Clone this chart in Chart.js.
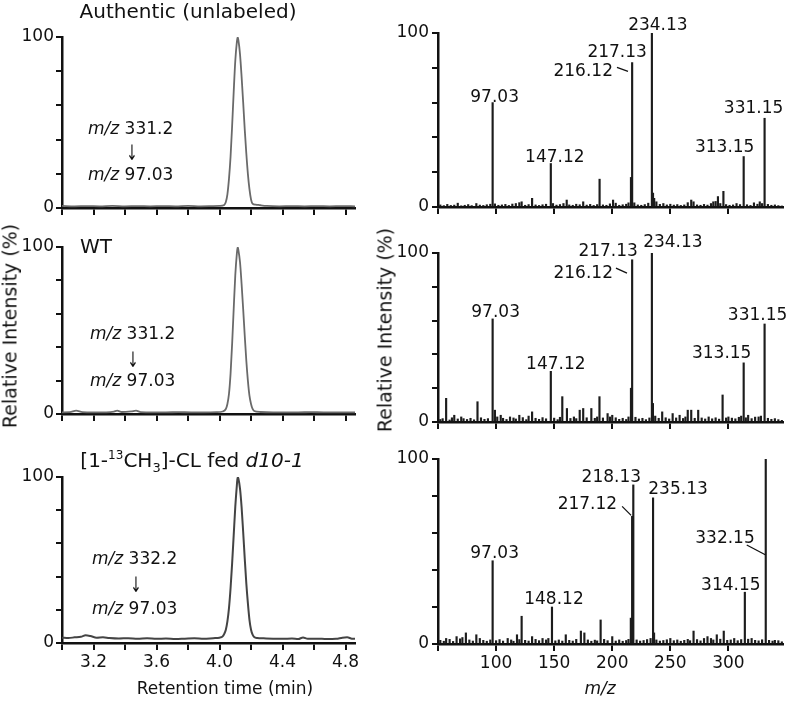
<!DOCTYPE html>
<html>
<head>
<meta charset="utf-8">
<title>Chromatograms and MS/MS spectra</title>
<script src="https://cdn.jsdelivr.net/npm/chart.js@4.4.1/dist/chart.umd.min.js"></script>
<style>
  body { margin: 0; background: #fff; }
  #page { position: relative; width: 796px; height: 705px; overflow: hidden; font-family: "DejaVu Sans", sans-serif; color: #111; }
  #page canvas { position: absolute; }
  .txt { position: absolute; white-space: nowrap; line-height: 1; }
  .ctr { transform: translateX(-50%); }
  .arrow { position: absolute; line-height: 1; font-size: 17px; transform: translateX(-50%) scaleX(0.8) scaleY(1.25); }
  .ytitle { position: absolute; white-space: nowrap; line-height: 1; font-size: 19px; transform: translate(-50%, -50%) rotate(-90deg); }
</style>
</head>
<body>
<div id="page">
  <canvas id="L1"></canvas>
  <canvas id="L2"></canvas>
  <canvas id="L3"></canvas>
  <canvas id="R1"></canvas>
  <canvas id="R2"></canvas>
  <canvas id="R3"></canvas>

  <div class="txt ctr" style="left:188px;top:1px;font-size:20px">Authentic (unlabeled)</div>
  <div class="txt" style="left:80px;top:236px;font-size:20px">WT</div>
  <div class="txt ctr" style="left:192px;top:449px;font-size:20px">[1-<sup style="font-size:12px">13</sup>CH<sub style="font-size:13px">3</sub>]-CL fed <i>d10-1</i></div>

  <div class="txt" style="left:88px;top:120px;font-size:17px"><i>m/z</i> 331.2</div>
  <div class="arrow" style="left:132px;top:145px">↓</div>
  <div class="txt" style="left:88px;top:166px;font-size:17px"><i>m/z</i> 97.03</div>

  <div class="txt" style="left:90px;top:325px;font-size:17px"><i>m/z</i> 331.2</div>
  <div class="arrow" style="left:133px;top:352px">↓</div>
  <div class="txt" style="left:90px;top:372px;font-size:17px"><i>m/z</i> 97.03</div>

  <div class="txt" style="left:92px;top:550px;font-size:17px"><i>m/z</i> 332.2</div>
  <div class="arrow" style="left:136px;top:577px">↓</div>
  <div class="txt" style="left:92px;top:600px;font-size:17px"><i>m/z</i> 97.03</div>

  <div class="txt ctr" style="left:225px;top:680px;font-size:17px">Retention time (min)</div>
  <div class="txt ctr" style="left:600px;top:680px;font-size:17px"><i>m/z</i></div>

  <div class="ytitle" style="left:10px;top:326px">Relative Intensity (%)</div>
  <div class="ytitle" style="left:385px;top:330px">Relative Intensity (%)</div>
</div>
<script>
// ---- chromatogram data (retention time in min, relative intensity %) ----
const l1Time = [3.00, 3.08, 3.16, 3.24, 3.32, 3.40, 3.48, 3.56, 3.64, 3.72, 3.80, 3.88, 3.96, 4.00, 4.03, 4.04, 4.05, 4.06, 4.07, 4.08, 4.09, 4.10, 4.11, 4.115, 4.12, 4.13, 4.14, 4.15, 4.16, 4.17, 4.18, 4.19, 4.20, 4.21, 4.23, 4.26, 4.30, 4.38, 4.46, 4.54, 4.62, 4.70, 4.78, 4.86];
const l1Int = [1.2, 1.0, 1.1, 1.0, 1.2, 1.0, 1.1, 1.0, 1.1, 1.0, 1.2, 1.0, 1.1, 1.2, 1.8, 3.5, 8, 17, 30, 48, 68, 86, 97, 100, 98, 90, 77, 62, 46, 32, 20, 11, 5, 2.5, 2.0, 1.6, 1.2, 1.0, 1.1, 1.0, 1.1, 1.0, 1.1, 1.0];

const l2Time = [3.00, 3.05, 3.09, 3.13, 3.20, 3.28, 3.33, 3.35, 3.38, 3.44, 3.47, 3.50, 3.58, 3.66, 3.74, 3.82, 3.90, 3.98, 4.02, 4.04, 4.05, 4.06, 4.07, 4.08, 4.09, 4.10, 4.11, 4.115, 4.12, 4.13, 4.14, 4.15, 4.16, 4.17, 4.18, 4.19, 4.20, 4.21, 4.22, 4.26, 4.34, 4.42, 4.50, 4.58, 4.66, 4.74, 4.82, 4.86];
const l2Int = [1.0, 1.1, 2.0, 1.1, 1.0, 1.0, 1.4, 2.0, 1.2, 1.6, 2.0, 1.1, 1.0, 1.0, 1.1, 1.0, 1.0, 1.1, 1.5, 3, 6, 12, 24, 42, 63, 83, 96, 100, 98, 91, 78, 63, 47, 32, 20, 11, 6, 3, 1.8, 1.2, 1.0, 1.0, 1.0, 1.1, 1.0, 1.0, 1.0, 1.0];

const l3Time = [3.00, 3.04, 3.08, 3.12, 3.15, 3.18, 3.22, 3.26, 3.30, 3.36, 3.42, 3.48, 3.54, 3.60, 3.66, 3.72, 3.78, 3.84, 3.90, 3.96, 4.00, 4.02, 4.03, 4.04, 4.05, 4.06, 4.07, 4.08, 4.09, 4.10, 4.11, 4.115, 4.12, 4.13, 4.14, 4.15, 4.16, 4.17, 4.18, 4.19, 4.20, 4.21, 4.22, 4.24, 4.28, 4.34, 4.40, 4.46, 4.50, 4.53, 4.56, 4.62, 4.68, 4.74, 4.78, 4.81, 4.84, 4.86];
const l3Int = [3.2, 3.0, 3.4, 3.8, 4.6, 4.2, 3.2, 3.4, 3.0, 2.7, 2.9, 2.6, 2.8, 2.5, 2.7, 2.4, 2.6, 2.8, 2.5, 2.9, 3.2, 4.0, 5.5, 8, 13, 21, 33, 48, 65, 82, 95, 100, 99, 93, 82, 67, 51, 36, 24, 14, 8, 5, 3.6, 3.0, 2.8, 2.6, 2.5, 2.7, 2.4, 3.3, 2.5, 2.6, 2.4, 2.5, 3.2, 3.4, 2.6, 2.5];

// ---- MS/MS spectra (m/z, relative intensity %) ----
const r1Mz = [97.03, 147.12, 189.1, 216.12, 217.13, 234.13, 235.1, 236.1, 291, 295.7, 313.15, 331.15, 131, 122, 160.8, 175, 200.7, 268, 287, 327,
  52, 55, 58, 61, 64, 67, 70, 73, 76, 79, 83, 86, 89, 92, 95, 99, 102, 105, 108, 111, 114, 117, 120, 125, 128, 134, 137, 140, 143, 149, 152, 155, 158,
  163, 166, 169, 172, 178, 181, 184, 187, 192, 195, 198, 203, 206, 209, 212, 214, 219, 222, 225, 228, 231, 238, 241, 244, 247, 250, 253, 256, 259, 262,
  265, 270, 273, 276, 279, 282, 285, 289, 293, 298, 301, 304, 307, 310, 316, 319, 322, 325, 329, 334, 337, 340, 343, 346];
const r1Int = [60, 25, 16, 17, 83, 100, 8, 5, 6, 9, 29, 51, 5, 3, 4, 3, 4, 4, 3, 3,
  1.2, 0.8, 1.5, 0.9, 1.1, 2.2, 0.7, 1.0, 1.4, 0.8, 2.0, 1.1, 0.9, 1.3, 1.6, 1.8, 1.0, 1.2, 1.5, 0.9, 1.7, 2.0, 2.5, 1.0, 1.4, 1.2, 0.9, 1.3, 1.6, 2.0, 1.1, 1.4, 2.0,
  1.2, 1.0, 1.6, 1.3, 1.1, 1.5, 0.9, 1.4, 1.2, 1.0, 1.8, 2.2, 1.0, 1.3, 1.6, 2.4, 2.4, 1.2, 1.0, 1.4, 2.2, 3.0, 1.5, 2.0, 1.2, 1.6, 1.1, 1.4, 0.9, 1.2,
  2.5, 3.0, 1.2, 1.0, 1.5, 1.1, 2.0, 3.2, 2.0, 1.4, 1.0, 1.2, 2.0, 1.4, 1.3, 0.9, 2.4, 1.6, 2.0, 1.5, 1.0, 1.2, 0.8, 0.6];
const r1Labels = ["97.03", "147.12", "216.12", "217.13", "234.13", "313.15", "331.15"];

const r2Mz = [57, 64, 70, 84, 97.03, 99, 104, 112, 120, 131, 147.12, 157, 161, 172, 175, 182, 189, 196, 200, 216.12, 217.13, 234.13, 235, 243, 252, 258,
  265, 268, 274, 283, 295, 300, 313.15, 317, 326, 331.15, 340,
  52, 54, 60, 62, 67, 72, 75, 78, 81, 87, 90, 93, 101, 106, 109, 115, 117, 123, 126, 128, 134, 137, 140, 143, 150, 153, 155, 164, 167, 169, 178, 185, 187,
  192, 198, 203, 206, 209, 212, 214, 220, 223, 226, 229, 232, 237, 240, 246, 249, 255, 261, 263, 271, 277, 280, 286, 289, 292, 298, 303, 306, 309, 311,
  315, 320, 323, 328, 334, 337, 343, 346];
const r2Int = [14, 4, 3, 12, 61, 7, 4, 3, 4, 6, 30, 15, 8, 7, 8, 8, 15, 5, 4, 20, 96, 100, 11, 6, 5, 4,
  7, 7, 7, 3, 16, 3, 35, 4, 3, 58, 2,
  1.5, 2, 1.2, 2.5, 1.8, 2, 1.5, 2.2, 1.3, 2.5, 1.6, 2, 3, 2.2, 1.5, 2.4, 1.8, 2.6, 1.4, 3.5, 2.2, 1.6, 2.6, 1.9, 2.3, 1.4, 2.8, 2.1, 3, 2, 2.5, 2.2, 3,
  2.4, 3, 2.5, 1.6, 2.2, 1.5, 3, 2.8, 1.8, 2.2, 1.4, 2.4, 3.5, 2.2, 2.5, 1.8, 2.4, 2.1, 3, 2.2, 2.4, 1.8, 1.9, 2.5, 1.7, 2.4, 2.3, 1.9, 2.8, 3.5,
  2.5, 2.0, 2.9, 3.5, 2.2, 1.6, 1.4, 1.0];
const r2Labels = ["97.03", "147.12", "216.12", "217.13", "234.13", "313.15", "331.15"];

const r3Mz = [57, 66, 74, 83, 97.03, 110, 118, 122, 131, 140, 148.12, 160, 173, 176, 190, 200, 216, 217.12, 218.13, 235.13, 236, 250, 270, 282, 290,
  296, 305, 314.15, 320, 332.15, 340,
  52, 55, 60, 63, 69, 71, 77, 80, 86, 89, 92, 95, 100, 103, 106, 113, 115, 120, 125, 128, 134, 137, 143, 145, 151, 154, 157, 163, 166, 169, 179, 182, 185,
  187, 193, 196, 203, 206, 209, 212, 214, 221, 224, 227, 230, 233, 238, 241, 244, 247, 253, 256, 259, 262, 265, 267, 273, 276, 279, 285, 287, 293, 299,
  302, 308, 311, 317, 323, 326, 329, 335, 338, 343, 346];
const r3Int = [3, 4, 6, 5, 45, 3, 5, 15, 4, 3, 20, 5, 7, 6, 13, 4, 14, 69, 86, 79, 6, 3, 7, 4, 5,
  7, 3, 28, 3, 100, 2,
  2, 1.5, 2.5, 1.4, 2.8, 3.5, 2.2, 1.6, 3, 2, 1.5, 2.2, 1.8, 2.4, 1.6, 2.2, 1.5, 2.4, 2.0, 1.6, 2.5, 1.8, 2.2, 3, 1.7, 2.2, 1.6, 2, 1.6, 2.5, 2.2, 1.5, 2.1,
  1.7, 2.5, 1.8, 1.6, 2.2, 1.5, 1.9, 2.5, 2.2, 1.6, 1.9, 2.4, 3, 2.2, 1.6, 1.9, 2.3, 1.8, 2.2, 1.5, 2.0, 2.5, 1.8, 2.4, 1.7, 3, 3, 2.2, 2.6, 2.0,
  2.2, 1.8, 2.4, 2.6, 2.0, 1.7, 2.3, 2.0, 1.6, 1.8, 1.2];
const r3Labels = ["97.03", "148.12", "217.12", "218.13", "235.13", "314.15", "332.15"];

// axis ticks
const rtTicks = [3.0, 3.2, 3.4, 3.6, 3.8, 4.0, 4.2, 4.4, 4.6, 4.8];
const rtTickLabels = [3.2, 3.6, 4.0, 4.4, 4.8];
const mzTicks = [50, 100, 150, 200, 250, 300];
const mzTickLabels = [100, 150, 200, 250, 300];
const yTickLabels = [0, 100];

// ---- layout / styling ----
const COL_LEFT = { left: 0, width: 370, axisW: 62, padRight: 15, yPad: 2 };
const COL_RIGHT = { left: 370, width: 426, axisW: 68, padRight: 13, yPad: 3 };
const PAD_TOP = 30;
const X_AXIS_H = 32;
const INK = "#111";
const FONT = "DejaVu Sans";

// pixel nudges of the peak labels relative to the top of their peak
const labelNudges = {
  R1: [
    { dx: 2, dy: -1 },
    { dx: 4, dy: -2 },
    { dx: -18, dy: -101, align: "right", leader: [-14, -110, -3, -106] },
    { dx: -15, dy: -6 },
    { dx: 6, dy: -3 },
    { dx: -19, dy: -5 },
    { dx: -11, dy: -5 },
  ],
  R2: [
    { dx: 3, dy: -2 },
    { dx: 5, dy: -2 },
    { dx: -18, dy: -110, align: "right", leader: [-15, -120, -4, -115] },
    { dx: -24, dy: -4 },
    { dx: 21, dy: -6 },
    { dx: -22, dy: -5 },
    { dx: -7, dy: -4 },
  ],
  R3: [
    { dx: 2, dy: -3 },
    { dx: 2, dy: -3 },
    { dx: -15, dy: -7, align: "right", leader: [-10, -10, -1, -1] },
    { dx: -22, dy: -3 },
    { dx: 25, dy: -4 },
    { dx: -14, dy: -2 },
    { dx: -11, dy: 84, align: "right", leader: [-19, 86, 0, 96] },
  ],
};

const peakLabelSets = {
  R1: { mz: r1Mz, ints: r1Int, labels: r1Labels },
  R2: { mz: r2Mz, ints: r2Int, labels: r2Labels },
  R3: { mz: r3Mz, ints: r3Int, labels: r3Labels },
};

// draws the m/z values over the peaks, anchored through the chart scales
const peakLabelPlugin = {
  id: "peakLabels",
  afterDatasetsDraw(chart) {
    const id = chart.canvas.id;
    const set = peakLabelSets[id];
    if (!set) return;
    const { ctx } = chart;
    const xs = chart.scales.x, ys = chart.scales.y;
    ctx.save();
    ctx.font = `17px "${FONT}"`;
    ctx.fillStyle = INK;
    ctx.strokeStyle = INK;
    ctx.lineWidth = 1.3;
    ctx.textBaseline = "alphabetic";
    set.labels.forEach((txt, i) => {
      const mz = parseFloat(txt);
      const k = set.mz.indexOf(mz);
      const px = xs.getPixelForValue(mz);
      const py = ys.getPixelForValue(set.ints[k]);
      const nd = labelNudges[id][i];
      ctx.textAlign = nd.align || "center";
      ctx.fillText(txt, px + nd.dx, py + nd.dy);
      if (nd.leader) {
        ctx.beginPath();
        ctx.moveTo(px + nd.leader[0], py + nd.leader[1]);
        ctx.lineTo(px + nd.leader[2], py + nd.leader[3]);
        ctx.stroke();
      }
    });
    ctx.restore();
  },
};
Chart.register(peakLabelPlugin);

Chart.defaults.font.family = FONT;
Chart.defaults.font.size = 17;
Chart.defaults.color = INK;

function placeCanvas(id, col, chartTop, chartBottom) {
  const c = document.getElementById(id);
  const top = chartTop - PAD_TOP;
  const h = chartBottom + X_AXIS_H - top;
  c.width = col.width;
  c.height = h;
  c.style.left = col.left + "px";
  c.style.top = top + "px";
  c.style.width = col.width + "px";
  c.style.height = h + "px";
  return c;
}

function yAxis(col) {
  return {
    min: 0,
    max: 100,
    ticks: {
      stepSize: 20,
      autoSkip: false,
      padding: col.yPad,
      callback: (v) => (yTickLabels.includes(v) ? String(v) : ""),
    },
    grid: { drawOnChartArea: false, tickLength: 6, color: INK, lineWidth: 2 },
    border: { color: INK, width: 2.5 },
    afterFit: (s) => { s.width = col.axisW; },
  };
}

function xAxis(min, max, tickValues, labelValues, showLabels, fmt) {
  return {
    type: "linear",
    min: min,
    max: max,
    offset: false,
    ticks: {
      autoSkip: false,
      maxRotation: 0,
      padding: 2,
      callback: (v) => (showLabels && labelValues.some((t) => Math.abs(t - v) < 0.001) ? fmt(v) : ""),
    },
    afterBuildTicks: (s) => { s.ticks = tickValues.map((v) => ({ value: v })); },
    grid: { drawOnChartArea: false, tickLength: 7, color: INK, lineWidth: 2, offset: false },
    border: { color: INK, width: 2.5 },
    afterFit: (s) => { s.height = X_AXIS_H; },
  };
}

function baseOptions(col, xScale) {
  return {
    responsive: false,
    animation: false,
    devicePixelRatio: 1,
    layout: { padding: { top: PAD_TOP, right: col.padRight, left: 0, bottom: 0 } },
    plugins: { legend: { display: false }, tooltip: { enabled: false } },
    scales: { x: xScale, y: yAxis(col) },
  };
}

function chromatogram(id, top, bottom, times, ints, color, width, showLabels) {
  const canvas = placeCanvas(id, COL_LEFT, top, bottom);
  const xScale = xAxis(3.0, 4.86, rtTicks, rtTickLabels, showLabels, (v) => v.toFixed(1));
  return new Chart(canvas, {
    type: "line",
    data: {
      datasets: [{
        data: times.map((t, i) => ({ x: t, y: ints[i] })),
        borderColor: color,
        borderWidth: width,
        pointRadius: 0,
        cubicInterpolationMode: "monotone",
        fill: false,
      }],
    },
    options: baseOptions(COL_LEFT, xScale),
  });
}

function spectrum(id, top, bottom, mz, ints, showLabels) {
  const canvas = placeCanvas(id, COL_RIGHT, top, bottom);
  const xScale = xAxis(50, 347, mzTicks, mzTickLabels, showLabels, (v) => String(v));
  return new Chart(canvas, {
    type: "bar",
    data: {
      datasets: [{
        data: mz.map((m, i) => ({ x: m, y: ints[i] })),
        backgroundColor: "#1c1c1c",
        barThickness: 1.5,
        borderWidth: 0,
        grouped: false,
      }],
    },
    options: baseOptions(COL_RIGHT, xScale),
  });
}

chromatogram("L1", 37, 208, l1Time, l1Int, "#6a6a6a", 1.8, false);
chromatogram("L2", 247, 414, l2Time, l2Int, "#6a6a6a", 1.8, false);
chromatogram("L3", 477, 643, l3Time, l3Int, "#444", 2, true);

spectrum("R1", 33, 207, r1Mz, r1Int, false);
spectrum("R2", 253, 422, r2Mz, r2Int, false);
spectrum("R3", 459, 644, r3Mz, r3Int, true);
</script>
</body>
</html>
